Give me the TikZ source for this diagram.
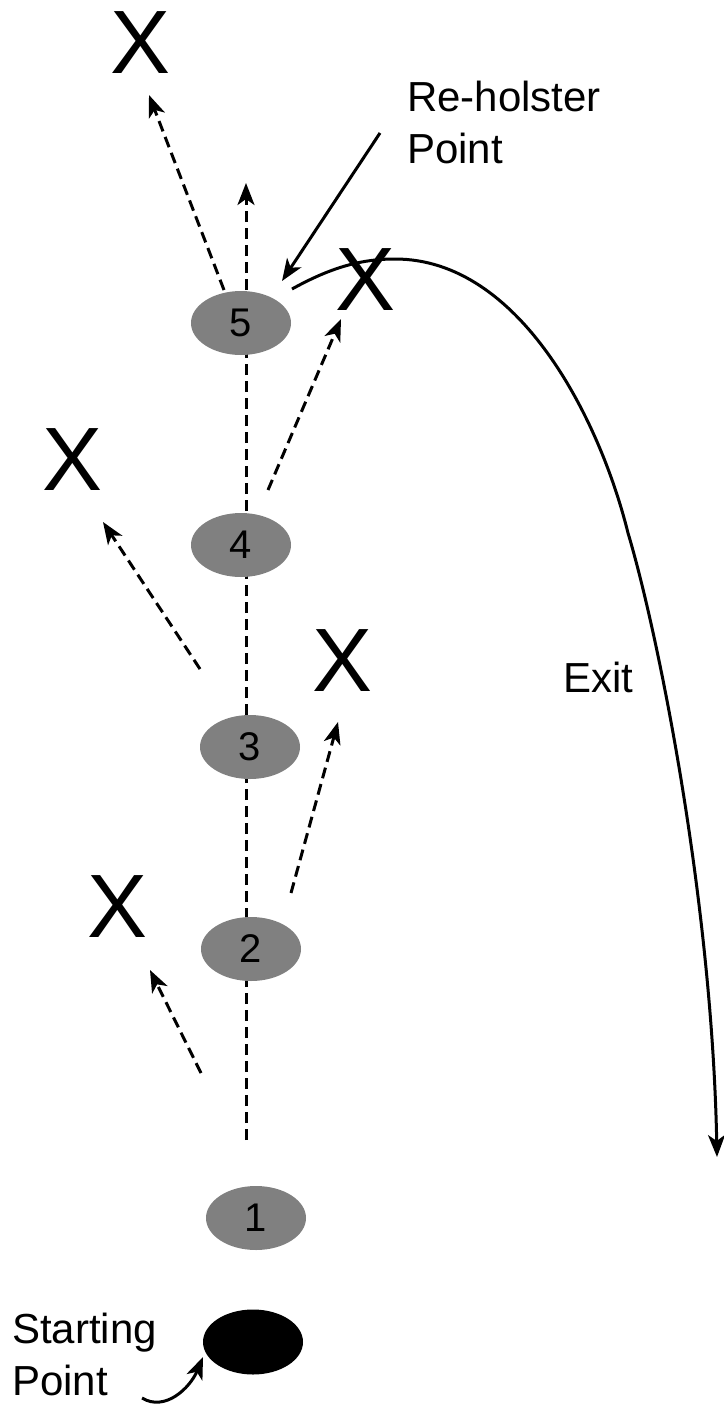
\documentclass[tikz,border=0pt]{standalone}
\usepackage{fontspec}
\setmainfont{Liberation Sans}
\usetikzlibrary{shapes.geometric,arrows.meta}
\definecolor{spotgray}{RGB}{128,128,128}
\begin{document}
\begin{tikzpicture}[x=1pt,y=-1pt,
  spot/.style={ellipse, fill=spotgray, minimum width=100pt, minimum height=64pt, inner sep=0pt, font=\fontsize{40}{40}\selectfont},
  miss/.style={inner sep=0pt, font=\fontsize{90}{90}\selectfont},
  txt/.style={inner sep=0pt, font=\fontsize{42}{52}\selectfont, align=left},
  tip/.style={-{Stealth[length=22pt,width=17pt,inset=6pt]}},
  shot/.style={tip, dash pattern=on 11pt off 6pt, line width=3pt},
  solidarrow/.style={tip, line width=3pt}
]
\useasboundingbox (0,0) rectangle (723,1407);

% free ends of the dashed lines
\coordinate (vbot) at (246,1140);
\coordinate (vtop) at (246,183);
\coordinate (a5s) at (224,290);  \coordinate (a5e) at (149,95);
\coordinate (a4s) at (268,490);  \coordinate (a4e) at (341,319);
\coordinate (a3s) at (200,669);  \coordinate (a3e) at (103,522);
\coordinate (a2s) at (291,893);  \coordinate (a2e) at (338,722);
\coordinate (a1s) at (201,1073); \coordinate (a1e) at (150,970);

\draw[shot] (vbot) -- (vtop);

% positions
\node[spot] (e5) at (241,323) {5};
\node[spot] (e4) at (241,545) {4};
\node[spot] (e3) at (250,747) {3};
\node[spot] (e2) at (251,949) {2};
\node[spot] (e1) at (256,1218) {1};
\node[spot, fill=black, minimum height=65pt] (s) at (253,1342) {};

% misses
\node[miss] (x5l) at (141,43) {X};
\node[miss] (x5r) at (366,280) {X};
\node[miss] (x4l) at (73,460) {X};
\node[miss] (x3r) at (343,661) {X};
\node[miss] (x2l) at (118,907) {X};

\draw[shot] (a5s) -- (a5e);
\draw[shot] (a4s) -- (a4e);
\draw[shot] (a3s) -- (a3e);
\draw[shot] (a2s) -- (a2e);
\draw[shot] (a1s) -- (a1e);

% labels
\node[txt, anchor=north west] (rh) at (407,81) {Re-holster\\Point};
\node[txt, anchor=north west] (sp) at (12,1313) {Starting\\Point};
\node[txt] (ex) at (598,677) {Exit};

\coordinate (rhs) at (380,133);
\coordinate (rhe) at (282,281);
\draw[solidarrow] (rhs) -- (rhe);

\coordinate (exs) at (292,289);
\coordinate (exe) at (717,1157);
\draw[solidarrow] (exs) .. controls (330,268) and (360,259) .. (395,259)
  .. controls (520,259) and (600,420) .. (628,533)
  .. controls (658,633) and (712,900) .. (exe);

\coordinate (sps) at (142,1398);
\coordinate (spe) at (203,1357);
\draw[solidarrow] (sps) .. controls (165,1412) and (190,1388) .. (spe);
\end{tikzpicture}
\end{document}
